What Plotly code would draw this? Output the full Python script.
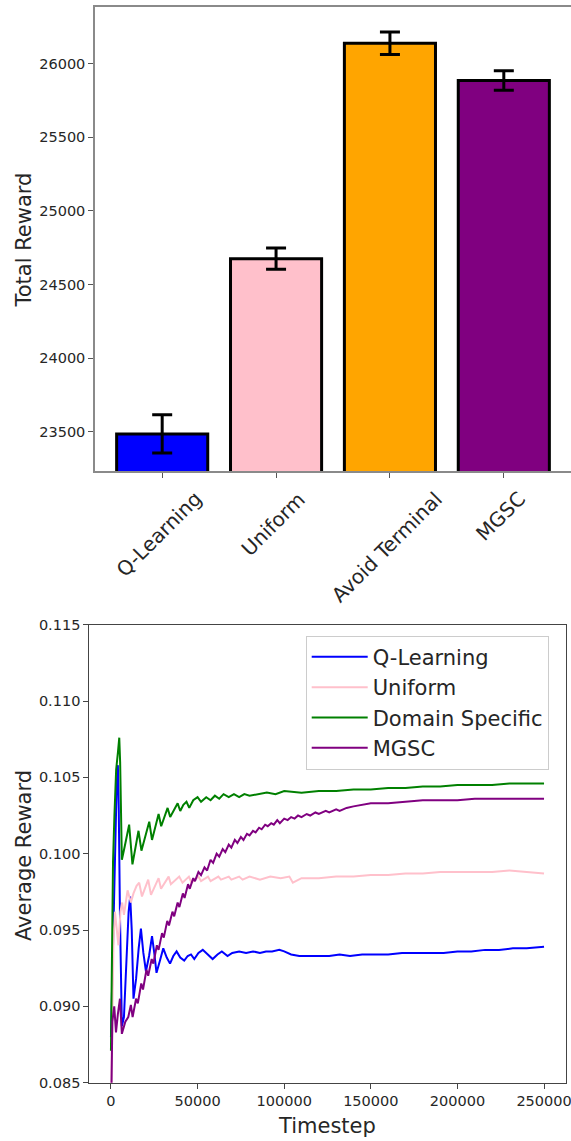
import plotly.graph_objects as go

# ---------------- data: bar chart ----------------
bar_categories = ["Q-Learning", "Uniform", "Avoid Terminal", "MGSC"]
bar_values = [23485, 24675, 26138, 25885]
bar_errors = [130, 72, 76, 66]
bar_colors = ["blue", "pink", "orange", "purple"]
bar_yticks = [23500, 24000, 24500, 25000, 25500, 26000]

# ---------------- data: line chart ----------------
ql_t = [0, 800, 1600, 2500, 3300, 4000, 4500, 5200, 6300, 7500, 9000, 10200, 11100, 12000,
        13000, 14500, 16000, 17300, 18700, 20200, 22000, 23700, 25000, 26300, 28300, 30200,
        32200, 34100, 36000, 37900, 40000, 42300, 44300, 46200, 48100, 50500, 53000, 55800,
        58700, 61500, 64000, 67300, 70000, 74000, 78000, 82000, 86000, 89500, 93000, 97200,
        100000, 104000, 108700, 114000, 120000, 126000, 132000, 138000, 145000, 152000,
        160000, 168000, 176000, 184000, 192000, 200000, 208000, 216000, 224000, 232000,
        240000, 249999]
ql_v = [0.0880, 0.0920, 0.0965, 0.1010, 0.1045, 0.1058, 0.1030, 0.0960, 0.0887, 0.0893,
        0.0935, 0.0962, 0.0972, 0.0950, 0.0905, 0.0918, 0.0938, 0.0951, 0.0935, 0.0923,
        0.0933, 0.0946, 0.0935, 0.0922, 0.0930, 0.0938, 0.0932, 0.0928, 0.0933, 0.0936,
        0.0932, 0.0930, 0.0933, 0.0934, 0.0931, 0.0935, 0.0937, 0.0934, 0.0931, 0.0934,
        0.0936, 0.0933, 0.0935, 0.0936, 0.0935, 0.0936, 0.0935, 0.0936, 0.0936, 0.0937,
        0.0936, 0.0934, 0.0933, 0.0933, 0.0933, 0.0933, 0.0934, 0.0933, 0.0934, 0.0934,
        0.0934, 0.0935, 0.0935, 0.0935, 0.0935, 0.0936, 0.0936, 0.0937, 0.0937, 0.0938,
        0.0938, 0.0939]

un_t = [0, 700, 1500, 2300, 3300, 4300, 5500, 6500, 7500, 9600, 11500, 13000, 14800, 16300,
        17900, 21500, 23100, 27500, 28900, 33300, 34600, 39400, 41300, 45000, 46500, 50500,
        52000, 56000, 57500, 62000, 63500, 68000, 69500, 74000, 76000, 80000, 86000, 92000,
        98000, 103000, 105000, 110000, 120000, 130000, 140000, 150000, 160000, 170000,
        180000, 190000, 200000, 210000, 220000, 230000, 240000, 249999]
un_v = [0.0830, 0.0905, 0.0945, 0.0962, 0.0948, 0.0940, 0.0962, 0.0968, 0.0960, 0.0976,
        0.0968, 0.0974, 0.0979, 0.0981, 0.0972, 0.0983, 0.0973, 0.0984, 0.0977, 0.0985,
        0.0980, 0.0985, 0.0981, 0.0985, 0.0981, 0.0985, 0.0982, 0.0985, 0.0982, 0.0985,
        0.0983, 0.0985, 0.0983, 0.0985, 0.0983, 0.0985, 0.0983, 0.0985, 0.0984, 0.0985,
        0.0981, 0.0984, 0.0984, 0.0985, 0.0985, 0.0986, 0.0986, 0.0987, 0.0987, 0.0988,
        0.0988, 0.0988, 0.0988, 0.0989, 0.0988, 0.0987]

ds_t = [0, 500, 1200, 2000, 3000, 4000, 4800, 5300, 6300, 8000, 10500, 12400, 14000, 15900,
        17600, 19500, 22100, 23700, 25500, 27500, 29000, 30800, 32700, 34200, 36400, 38500,
        40000, 41800, 43600, 45200, 47500, 50000, 52000, 55000, 57500, 60000, 62500, 65000,
        68000, 71000, 74000, 77000, 80000, 85000, 90000, 95000, 100000, 110000, 120000,
        130000, 140000, 150000, 160000, 170000, 180000, 190000, 200000, 210000, 220000,
        230000, 240000, 249999]
ds_v = [0.0871, 0.0935, 0.0995, 0.1025, 0.1055, 0.1066, 0.1076, 0.1060, 0.0996, 0.1005,
        0.1019, 0.0993, 0.1003, 0.1015, 0.1002, 0.1010, 0.1021, 0.1009, 0.1017, 0.1026,
        0.1018, 0.1024, 0.1030, 0.1024, 0.1029, 0.1033, 0.1028, 0.1032, 0.1034, 0.1030,
        0.1035, 0.1037, 0.1034, 0.1037, 0.1035, 0.1038, 0.1036, 0.1039, 0.1037, 0.1039,
        0.1037, 0.1039, 0.1038, 0.1039, 0.1040, 0.1039, 0.1041, 0.1040, 0.1041, 0.1041,
        0.1042, 0.1042, 0.1043, 0.1043, 0.1044, 0.1044, 0.1045, 0.1045, 0.1045, 0.1046,
        0.1046, 0.1046]

mg_t = [0, 800, 1900, 2900, 4000, 5200, 6300, 8300, 10000, 11500, 12500, 14500, 15500, 17500,
        18500, 20500, 21500, 23500, 24500, 26500, 27500, 29500, 30500, 32500, 33500, 35500,
        36500, 38500, 39500, 41500, 42500, 44500, 45500, 47500, 48500, 50500, 52000, 54000,
        55500, 57500, 59000, 61000, 62500, 64500, 66000, 68000, 69500, 71500, 73000, 75000,
        76500, 78500, 80000, 82000, 83500, 85500, 87000, 89000, 90500, 92500, 94000, 96000,
        97500, 100000, 102000, 104000, 106000, 108000, 110000, 113000, 115000, 118000,
        120000, 124000, 126000, 130000, 132000, 136000, 140000, 145000, 150000, 160000,
        170000, 180000, 190000, 200000, 210000, 220000, 230000, 240000, 249999]
mg_v = [0.0820, 0.0890, 0.0900, 0.0883, 0.0895, 0.0905, 0.0882, 0.0890, 0.0893, 0.0901,
        0.0893, 0.0905, 0.0902, 0.0915, 0.0911, 0.0924, 0.0920, 0.0931, 0.0928, 0.0940,
        0.0937, 0.0948, 0.0945, 0.0956, 0.0953, 0.0962, 0.0959, 0.0968, 0.0965, 0.0974,
        0.0971, 0.0980, 0.0977, 0.0984, 0.0982, 0.0988, 0.0986, 0.0991, 0.0989, 0.0996,
        0.0994, 0.1000, 0.0998, 0.1003, 0.1001, 0.1006, 0.1004, 0.1009, 0.1007, 0.1011,
        0.1009, 0.1013, 0.1012, 0.1015, 0.1014, 0.1017, 0.1016, 0.1019, 0.1018, 0.1020,
        0.1019, 0.1022, 0.1020, 0.1023, 0.1022, 0.1024, 0.1023, 0.1025, 0.1024, 0.1026,
        0.1025, 0.1027, 0.1026, 0.1028, 0.1027, 0.1029, 0.1028, 0.1030, 0.1031, 0.1032,
        0.1033, 0.1033, 0.1034, 0.1035, 0.1035, 0.1035, 0.1036, 0.1036, 0.1036, 0.1036,
        0.1036]

line_series = [
    ("Q-Learning", ql_t, ql_v, "blue"),
    ("Uniform", un_t, un_v, "pink"),
    ("Domain Specific", ds_t, ds_v, "green"),
    ("MGSC", mg_t, mg_v, "purple"),
]
line_xticks = [0, 50000, 100000, 150000, 200000, 250000]
line_yticks = [0.085, 0.090, 0.095, 0.100, 0.105, 0.110, 0.115]

# ---------------- figure ----------------
W, H = 571, 1141
FONT = "DejaVu Sans"
TXT = "#262626"

fig = go.Figure()

fig.add_trace(go.Bar(
    x=bar_categories, y=bar_values, width=0.8,
    marker=dict(color=bar_colors, line=dict(color="black", width=3)),
    error_y=dict(type="data", array=bar_errors, visible=True,
                 color="black", thickness=3, width=10),
    showlegend=False, xaxis="x", yaxis="y",
))

for name, t, v, col in line_series:
    fig.add_trace(go.Scatter(
        x=t, y=v, mode="lines", name=name,
        line=dict(color=col, width=2),
        xaxis="x2", yaxis="y2",
    ))

annotations = []
for cat in bar_categories:
    annotations.append(dict(
        x=cat, xref="x", y=0, yref="y domain", yanchor="top", xanchor="center",
        yshift=-13, xshift=-3, text=cat, textangle=-45, showarrow=False,
        font=dict(family=FONT, size=20, color=TXT),
    ))
annotations += [
    dict(x=24 / W, y=1 - 240.5 / H, xref="paper", yref="paper", text="Total Reward",
         textangle=-90, showarrow=False, xanchor="center", yanchor="middle",
         font=dict(family=FONT, size=21, color=TXT)),
    dict(x=23.3 / W, y=1 - 855.8 / H, xref="paper", yref="paper", text="Average Reward",
         textangle=-90, showarrow=False, xanchor="center", yanchor="middle",
         font=dict(family=FONT, size=21, color=TXT)),
    dict(x=327 / W, y=1 - 1126 / H, xref="paper", yref="paper", text="Timestep",
         showarrow=False, xanchor="center", yanchor="middle",
         font=dict(family=FONT, size=21, color=TXT)),
]

tickfont = dict(family=FONT, size=14.5, color=TXT)

fig.update_layout(
    width=W, height=H,
    margin=dict(l=0, r=0, t=0, b=0),
    paper_bgcolor="white", plot_bgcolor="white",
    font=dict(family=FONT, color=TXT),
    annotations=annotations,
    xaxis=dict(domain=[95 / W, 1.0], anchor="y", range=[-0.59, 3.59],
               showticklabels=False, ticks="outside", ticklen=5, tickcolor="#555",
               showline=True, linecolor="#8a8a8a", linewidth=1.5, mirror=True,
               showgrid=False, zeroline=False, automargin=False),
    yaxis=dict(domain=[1 - 471 / H, 1 - 7 / H], anchor="x", range=[23233, 26384],
               tickvals=bar_yticks, tickformat="d", ticks="outside", ticklen=5,
               tickcolor="#555", tickfont=tickfont, showline=True, linecolor="#8a8a8a",
               linewidth=1.5, mirror=False, showgrid=False, zeroline=False,
               automargin=False),
    xaxis2=dict(domain=[89.3 / W, 565.7 / W], anchor="y2", range=[-12500, 262500],
                tickvals=line_xticks, tickformat="d", ticks="outside", ticklen=5,
                tickcolor="#444", tickfont=tickfont, showline=True, linecolor="#444",
                linewidth=1, mirror=True, showgrid=False, zeroline=False,
                automargin=False, ticklabeloverflow="allow"),
    yaxis2=dict(domain=[1 - 1082.7 / H, 1 - 624.7 / H], anchor="x2", range=[0.085, 0.115],
                tickvals=line_yticks, tickformat=".3f", ticks="outside", ticklen=5,
                tickcolor="#444", tickfont=tickfont, showline=True, linecolor="#444",
                linewidth=1, mirror=True, showgrid=False, zeroline=False,
                automargin=False),
    legend=dict(x=305.7 / W, y=1 - 635.7 / H, xanchor="left", yanchor="top",
                bgcolor="white", bordercolor="#cccccc", borderwidth=1,
                font=dict(family=FONT, size=21, color=TXT), itemwidth=56),
)

fig.write_html(
    "out.html",
    config={"displayModeBar": False},
    post_script="document.body.style.margin='0';document.body.style.overflow='hidden';",
)
